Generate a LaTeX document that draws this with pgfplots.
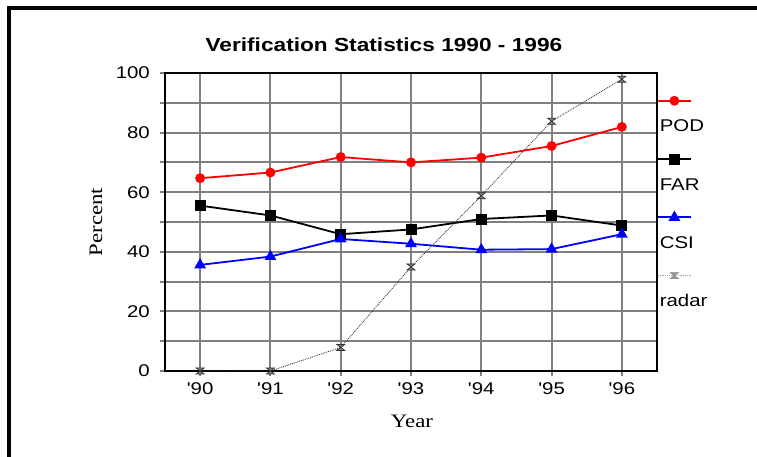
\documentclass[border=0pt]{standalone}
\usepackage{fontspec}
\usepackage{pgfplots}
\pgfplotsset{compat=1.18}
\newfontfamily\arialw{Liberation Sans}[FakeStretch=1.2,Ligatures=TeXOff]
\newfontfamily\timesw{Liberation Serif}[FakeStretch=1.2,Ligatures=TeXOff]
\definecolor{gridgray}{RGB}{128,128,128}
\definecolor{radargray}{RGB}{60,60,60}
\pgfdeclareplotmark{hourglass}{%
  \pgfpathmoveto{\pgfqpoint{-4pt}{3pt}}%
  \pgfpathlineto{\pgfqpoint{4pt}{3pt}}%
  \pgfpathlineto{\pgfqpoint{-4pt}{-3pt}}%
  \pgfpathlineto{\pgfqpoint{4pt}{-3pt}}%
  \pgfpathclose
  \pgfusepathqfillstroke}
\begin{document}
\begin{tikzpicture}[x=1pt,y=1pt]
\begin{axis}[
  at={(165pt,86pt)}, anchor=south west,
  scale only axis, width=492pt, height=298pt,
  xmin=-0.5, xmax=6.5, ymin=0, ymax=100,
  xtick={0,1,2,3,4,5,6},
  xticklabels={'90,'91,'92,'93,'94,'95,'96},
  ytick={0,20,40,60,80,100},
  minor ytick={10,30,50,70,90},
  grid=both,
  major grid style={gridgray, line width=2pt},
  minor grid style={gridgray, line width=2pt},
  tick align=outside,
  xtick pos=bottom, ytick pos=left,
  major tick length=5pt, minor tick length=5pt,
  tick style={gridgray, line width=2pt},
  axis line style={black, line width=2pt},
  /pgf/number format/assume math mode=true,
  ticklabel style={font=\arialw\fontsize{17}{20}\selectfont},
  xticklabel style={anchor=north, inner sep=0pt, yshift=-6pt},
  yticklabel style={anchor=east, inner sep=0pt, xshift=-10pt},
  title={Verification Statistics 1990 - 1996},
  title style={at={(0.445,1)}, anchor=base, inner sep=0pt, yshift=15.8pt,
    font=\arialw\bfseries\fontsize{18.9}{22}\selectfont},
  xlabel={Year},
  xlabel style={at={(axis description cs:0.502,-0.170)}, anchor=center,
    font=\timesw\fontsize{19}{22}\selectfont},
  ylabel={Percent},
  ylabel style={at={(axis description cs:-0.140,0.5)}, anchor=center,
    font=\timesw\fontsize{19}{22}\selectfont},
  clip=false,
  legend cell align=left,
  legend style={at={(rel axis cs:1,0.8433)}, anchor=north west, draw=none, fill=none,
    inner sep=0pt, outer sep=0pt, row sep=46.1pt, column sep=1pt,
    font=\arialw\fontsize{17}{20}\selectfont,
    nodes={inner sep=0pt, text height=12.2pt, text depth=0pt}},
  legend image code/.code={%
    \draw[overlay,mark repeat=2,mark phase=2,#1] plot coordinates {(0pt,25pt) (16.5pt,25pt) (33pt,25pt)};
    \path (0pt,0pt);},
]
\addplot[red, line width=1.8pt, mark=*, mark size=4pt] coordinates {
  (0,64.7) (1,66.6) (2,71.8) (3,70.0) (4,71.6) (5,75.5) (6,81.9)};
\addlegendentry{POD}
\addplot[black, line width=1.8pt, mark=square*, mark size=4.6pt] coordinates {
  (0,55.5) (1,52.2) (2,45.9) (3,47.5) (4,51.0) (5,52.2) (6,48.8)};
\addlegendentry{FAR}
\addplot[blue, line width=1.8pt, mark=triangle*, mark size=5pt] coordinates {
  (0,35.6) (1,38.4) (2,44.3) (3,42.7) (4,40.7) (5,40.9) (6,45.9)};
\addlegendentry{CSI}
\addplot[radargray, line width=0.9pt, densely dotted, mark=hourglass,
  mark options={solid, draw=black!80, fill=gridgray, line width=0.7pt}, forget plot] coordinates {
  (0,0) (1,0) (2,7.9) (3,34.9) (4,58.8) (5,83.8) (6,97.9)};
\addlegendimage{gridgray!70, line width=0.8pt, densely dotted, mark=hourglass,
  mark options={solid, draw=gridgray, fill=gridgray!80, line width=0.6pt}}
\addlegendentry{radar}
\end{axis}
\draw[line width=4pt, line join=miter] (9,0) -- (9,448.5) -- (757,448.5);
\node[anchor=base, inner sep=0pt, font=\timesw\bfseries\fontsize{24}{28}\selectfont] at (368,462.5) {g};
\pgfresetboundingbox
\useasboundingbox (0,0) rectangle (757,457);
\end{tikzpicture}
\end{document}
